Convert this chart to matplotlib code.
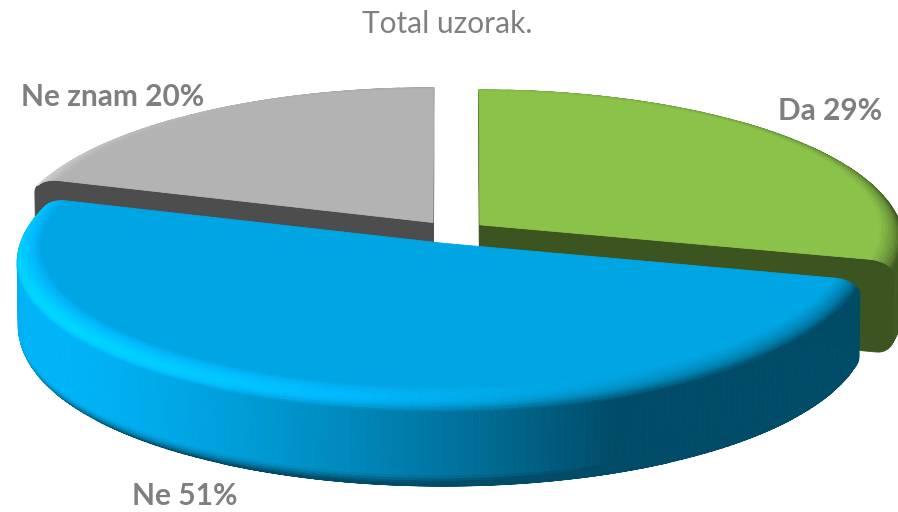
"""Exploded 3D pie: Total uzorak."""

import numpy as np
import matplotlib.pyplot as plt
from matplotlib.collections import PolyCollection
from matplotlib.colors import to_rgb

title = "Total uzorak."
categories = ["Da", "Ne", "Ne znam"]
values = [29, 51, 20]
colors = ["#8bc34a", "#00a5e3", "#b3b3b3"]
label_pos = [(830, 120), (185, 505), (113, 106)]   # pixel positions (baseline)

# camera / geometry (pie radius = 1)
el = np.radians(20.2)
D = 25.0
F = 425.0 * D
CX, CY = 453.0, 232.0
H = 0.23             # thickness
BT, BTH = 0.06, 0.035  # top bevel width / height
BB, BBH = 0.04, 0.04   # bottom bevel
EXPLODE = 0.08
cam = np.array([0.0, -D * np.cos(el), D * np.sin(el)])
L = np.array([-0.7, -0.3, 0.65])
L = L / np.linalg.norm(L)
TOPF = 0.35 + 0.65 * L[2]


def project(P):
    P = np.asarray(P, dtype=float)
    X, Y, Z = P[..., 0], P[..., 1], P[..., 2]
    depth = D + Y * np.cos(el) - Z * np.sin(el)
    up = Y * np.sin(el) + Z * np.cos(el)
    return np.stack([CX + F * X / depth, CY - F * up / depth], -1), depth


def shade(rgb, n):
    f = (0.35 + 0.65 * max(0.0, float(n @ L))) / TOPF
    return tuple(np.clip(np.array(rgb) * f, 0, 1))


# cross-section profile (r, z, nr, nz) from top rim to bottom rim
prof = []
for p in np.linspace(0, np.pi / 2, 14):
    nr, nz = BTH * np.sin(p), BT * np.cos(p)
    s = np.hypot(nr, nz)
    prof.append((1 - BT + BT * np.sin(p), -BTH + BTH * np.cos(p), nr / s, nz / s))
for p in np.linspace(np.pi / 2, np.pi, 10):
    nr, nz = BBH * np.sin(p), BB * np.cos(p)
    s = np.hypot(nr, nz)
    prof.append((1 - BB + BB * np.sin(p), -H + BBH + BBH * np.cos(p), nr / s, nz / s))
prof = np.array(prof)

fracs = np.array(values) / sum(values)
ends = 90 - 360 * np.cumsum(fracs)
starts = ends + 360 * fracs

fig = plt.figure(figsize=(8.98, 5.12), dpi=100)
ax = fig.add_axes([0, 0, 1, 1])
ax.set_xlim(0, 898)
ax.set_ylim(512, 0)
ax.axis("off")

slices = []
for i in range(len(values)):
    lo, hi = np.radians(ends[i]), np.radians(starts[i])
    mid = (lo + hi) / 2
    off = np.array([EXPLODE * np.cos(mid), EXPLODE * np.sin(mid), 0.0])
    slices.append((lo, hi, off, to_rgb(colors[i])))
# far slices first
slices.sort(key=lambda s: -(s[2][1]))

for lo, hi, off, rgb in slices:
    polys, cols = [], []

    # radial cut faces
    face_prof = np.vstack([[0, 0], prof[:, :2], [0, -H]])
    for ang, nvec in [(lo, np.array([np.sin(lo), -np.cos(lo), 0])),
                      (hi, np.array([-np.sin(hi), np.cos(hi), 0]))]:
        pts = np.column_stack([face_prof[:, 0] * np.cos(ang), face_prof[:, 0] * np.sin(ang),
                               face_prof[:, 1]]) + off
        if nvec @ (cam - pts.mean(0)) > 0:
            xy, _ = project(pts)
            polys.append(xy)
            cols.append(tuple(np.array(rgb) * 0.43))

    # outer wall with bevels
    n = int(np.degrees(hi - lo)) + 2
    th = np.linspace(lo, hi, n)
    quads = []
    for j in range(n - 1):
        t0, t1 = th[j], th[j + 1]
        tm = (t0 + t1) / 2
        for k in range(len(prof) - 1):
            a, b = prof[k], prof[k + 1]
            nr, nz = (a[2] + b[2]) / 2, (a[3] + b[3]) / 2
            nvec = np.array([nr * np.cos(tm), nr * np.sin(tm), nz])
            pts = np.array([[a[0] * np.cos(t0), a[0] * np.sin(t0), a[1]],
                            [a[0] * np.cos(t1), a[0] * np.sin(t1), a[1]],
                            [b[0] * np.cos(t1), b[0] * np.sin(t1), b[1]],
                            [b[0] * np.cos(t0), b[0] * np.sin(t0), b[1]]]) + off
            c = pts.mean(0)
            if nvec @ (cam - c) <= 0:
                continue
            xy, dep = project(pts)
            quads.append((dep.mean(), xy, shade(rgb, nvec)))
    quads.sort(key=lambda q: -q[0])
    polys += [q[1] for q in quads]
    cols += [q[2] for q in quads]

    # top face
    rim = np.column_stack([(1 - BT) * np.cos(th), (1 - BT) * np.sin(th), np.zeros_like(th)])
    top = np.vstack([[0, 0, 0], rim]) + off
    xy, _ = project(top)
    polys.append(xy)
    cols.append(rgb)

    ax.add_collection(PolyCollection(polys, facecolors=cols, edgecolors=cols,
                                     linewidths=0.6, antialiased=True))

for cat, v, (x, y) in zip(categories, values, label_pos):
    ax.text(x, y, f"{cat} {v}%", ha="center", va="baseline", fontsize=21.5,
            fontweight="bold", color="#7f7f7f", family="Lato")

ax.text(447, 33, title, ha="center", va="baseline", fontsize=21.5,
        color="#808080", family="Lato")

fig.savefig("out.png", dpi=100)
